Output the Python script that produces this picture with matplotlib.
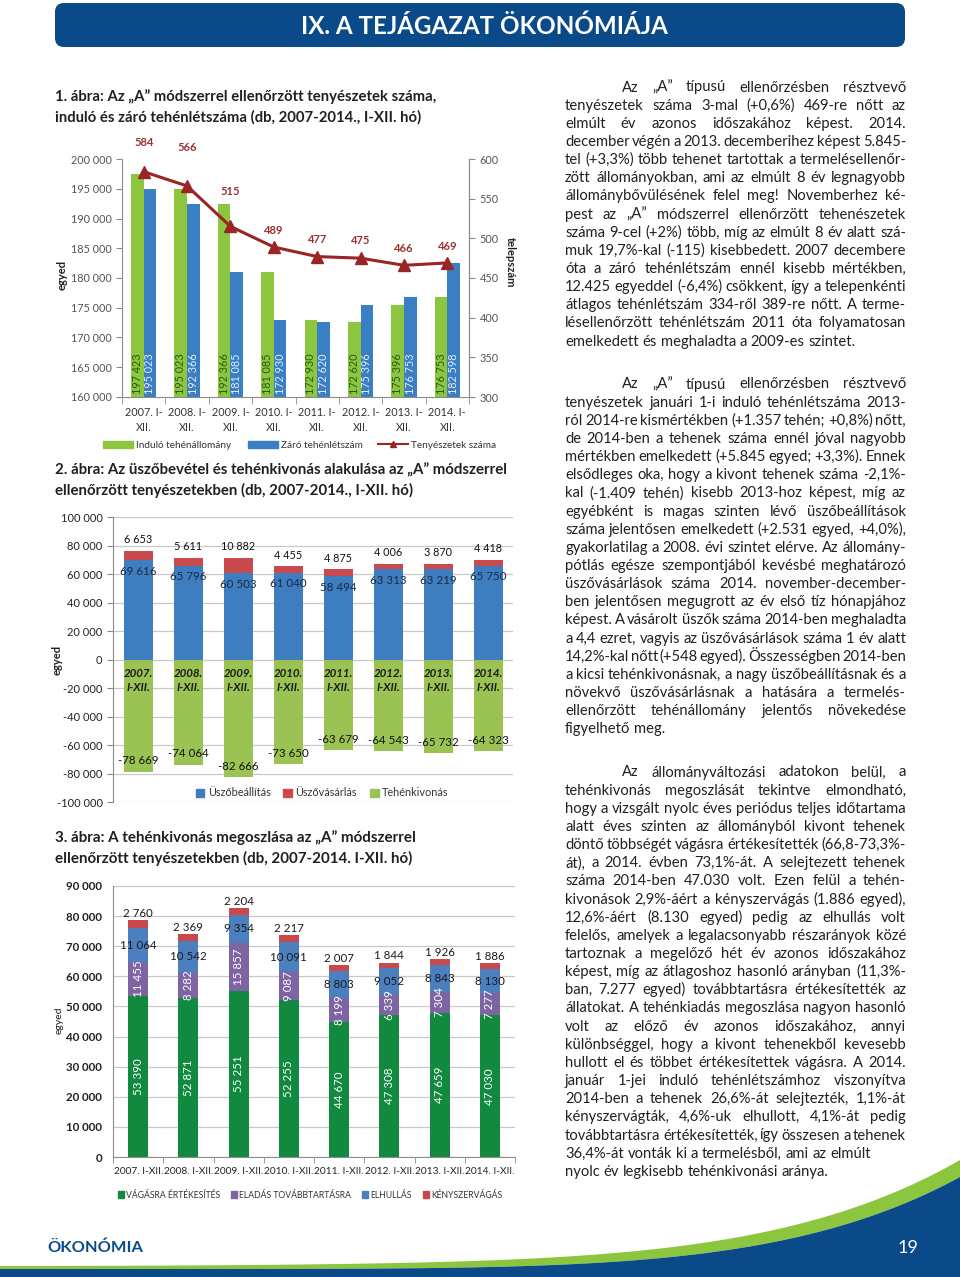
import numpy as np
import matplotlib
matplotlib.use('Agg')
import matplotlib.pyplot as plt
from matplotlib.patches import FancyBboxPatch, Patch
from matplotlib.lines import Line2D
from matplotlib.ticker import FuncFormatter, MultipleLocator, FixedLocator

# ---------------- data ----------------
years1 = ['2007. I-\nXII.', '2008. I-\nXII.', '2009. I-\nXII.', '2010. I-\nXII.',
          '2011. I-\nXII.', '2012. I-\nXII.', '2013. I-\nXII.', '2014. I-\nXII.']
indulo = [197423, 195023, 192366, 181085, 172930, 172620, 175396, 176753]
zaro = [195023, 192366, 181085, 172930, 172620, 175396, 176753, 182598]
tenyeszet = [584, 566, 515, 489, 477, 475, 466, 469]
tenyeszet_lab_off = [21, 28, 25, 12, 12, 13, 12, 12]   # label offsets (points)

years2 = ['2007.\nI-XII.', '2008.\nI-XII.', '2009.\nI-XII.', '2010.\nI-XII.',
          '2011.\nI-XII.', '2012.\nI-XII.', '2013.\nI-XII.', '2014.\nI-XII.']
uszobeallitas = [69616, 65796, 60503, 61040, 58494, 63313, 63219, 65750]
uszovasarlas = [6653, 5611, 10882, 4455, 4875, 4006, 3870, 4418]
tehenkivonas = [-78669, -74064, -82666, -73650, -63679, -64543, -65732, -64323]

years3 = ['2007. I-XII.', '2008. I-XII.', '2009. I-XII.', '2010. I-XII.',
          '2011. I-XII.', '2012. I-XII.', '2013. I-XII.', '2014. I-XII.']
vagasra = [53390, 52871, 55251, 52255, 44670, 47308, 47659, 47030]
tovabbtartasra = [11455, 8282, 15857, 9087, 8199, 6339, 7304, 7277]
elhullas = [11064, 10542, 9354, 10091, 8803, 9052, 8843, 8130]
kenyszervagas = [2760, 2369, 2204, 2217, 2007, 1844, 1926, 1886]

# ---------------- text ----------------
header = 'IX. A TEJÁGAZAT ÖKONÓMIÁJA'
cap1 = ['1. ábra: Az „A” módszerrel ellenőrzött tenyészetek száma,',
        'induló és záró tehénlétszáma (db, 2007-2014., I-XII. hó)']
cap2 = ['2. ábra: Az üszőbevétel és tehénkivonás alakulása az „A” módszerrel',
        'ellenőrzött tenyészetekben (db, 2007-2014., I-XII. hó)']
cap3 = ['3. ábra: A tehénkivonás megoszlása az „A” módszerrel',
        'ellenőrzött tenyészetekben (db, 2007-2014. I-XII. hó)']

par1 = ['Az „A” típusú ellenőrzésben résztvevő',
        'tenyészetek száma 3-mal (+0,6%) 469-re nőtt az',
        'elmúlt év azonos időszakához képest. 2014.',
        'december végén a 2013. decemberihez képest 5.845-',
        'tel (+3,3%) több tehenet tartottak a termelésellenőr-',
        'zött állományokban, ami az elmúlt 8 év legnagyobb',
        'állománybővülésének felel meg! Novemberhez ké-',
        'pest az „A” módszerrel ellenőrzött tehenészetek',
        'száma 9-cel (+2%) több, míg az elmúlt 8 év alatt szá-',
        'muk 19,7%-kal (-115) kisebbedett. 2007 decembere',
        'óta a záró tehénlétszám ennél kisebb mértékben,',
        '12.425 egyeddel (-6,4%) csökkent, így a telepenkénti',
        'átlagos tehénlétszám 334-ről 389-re nőtt. A terme-',
        'lésellenőrzött tehénlétszám 2011 óta folyamatosan',
        'emelkedett és meghaladta a 2009-es szintet.']
par2 = ['Az „A” típusú ellenőrzésben résztvevő',
        'tenyészetek januári 1-i induló tehénlétszáma 2013-',
        'ról 2014-re kismértékben (+1.357 tehén; +0,8%) nőtt,',
        'de 2014-ben a tehenek száma ennél jóval nagyobb',
        'mértékben emelkedett (+5.845 egyed; +3,3%). Ennek',
        'elsődleges oka, hogy a kivont tehenek száma -2,1%-',
        'kal (-1.409 tehén) kisebb 2013-hoz képest, míg az',
        'egyébként is magas szinten lévő üszőbeállítások',
        'száma jelentősen emelkedett (+2.531 egyed, +4,0%),',
        'gyakorlatilag a 2008. évi szintet elérve. Az állomány-',
        'pótlás egésze szempontjából kevésbé meghatározó',
        'üszővásárlások száma 2014. november-december-',
        'ben jelentősen megugrott az év első tíz hónapjához',
        'képest. A vásárolt üszők száma 2014-ben meghaladta',
        'a 4,4 ezret, vagyis az üszővásárlások száma 1 év alatt',
        '14,2%-kal nőtt (+548 egyed). Összességben 2014-ben',
        'a kicsi tehénkivonásnak, a nagy üszőbeállításnak és a',
        'növekvő üszővásárlásnak a hatására a termelés-',
        'ellenőrzött tehénállomány jelentős növekedése',
        'figyelhető meg.']
par3 = ['Az állományváltozási adatokon belül, a',
        'tehénkivonás megoszlását tekintve elmondható,',
        'hogy a vizsgált nyolc éves periódus teljes időtartama',
        'alatt éves szinten az állományból kivont tehenek',
        'döntő többségét vágásra értékesítették (66,8-73,3%-',
        'át), a 2014. évben 73,1%-át. A selejtezett tehenek',
        'száma 2014-ben 47.030 volt. Ezen felül a tehén-',
        'kivonások 2,9%-áért a kényszervágás (1.886 egyed),',
        '12,6%-áért (8.130 egyed) pedig az elhullás volt',
        'felelős, amelyek a legalacsonyabb részarányok közé',
        'tartoznak a megelőző hét év azonos időszakához',
        'képest, míg az átlagoshoz hasonló arányban (11,3%-',
        'ban, 7.277 egyed) továbbtartásra értékesítették az',
        'állatokat. A tehénkiadás megoszlása nagyon hasonló',
        'volt az előző év azonos időszakához, annyi',
        'különbséggel, hogy a kivont tehenekből kevesebb',
        'hullott el és többet értékesítettek vágásra. A 2014.',
        'január 1-jei induló tehénlétszámhoz viszonyítva',
        '2014-ben a tehenek 26,6%-át selejtezték, 1,1%-át',
        'kényszervágták, 4,6%-uk elhullott, 4,1%-át pedig',
        'továbbtartásra értékesítették, így összesen a tehenek',
        '36,4%-át vonták ki a termelésből, ami az elmúlt',
        'nyolc év legkisebb tehénkivonási aránya.']

# ---------------- style ----------------
BODY = ['Lato', 'DejaVu Sans']
NARROW = ['Liberation Sans Narrow', 'Lato', 'DejaVu Sans']
TXT = '#231f20'
NAVY = '#0b4a89'
LGREEN = '#8cc63f'
G1, B1, R1 = '#8cc63f', '#3a7ec3', '#9b2424'
B2, R2, G2 = '#3d7dc0', '#c94a4c', '#9bc354'
G3, P3, B3, R3 = '#11893f', '#7f64a3', '#4b7fbe', '#c9484b'
GRID = '#c8c8c8'
SPINE = '#8c8c8c'
plt.rcParams['font.family'] = BODY

W, H = 960, 1277
fig = plt.figure(figsize=(W / 100, H / 100), dpi=100)
renderer = fig.canvas.get_renderer()
bg = fig.add_axes([0, 0, 1, 1], zorder=-10)
bg.set_xlim(0, W)
bg.set_ylim(H, 0)
bg.axis('off')


def twidth(s, **kw):
    t = bg.text(0, 0, s, **kw)
    w = t.get_window_extent(renderer).width
    t.remove()
    return w


def fit(s, target, **kw):
    return 10 * target / twidth(s, fontsize=10, **kw)


def ax_px(l, t, r, b):
    return fig.add_axes([l / W, 1 - b / H, (r - l) / W, (b - t) / H])


def fmt(v):
    return f'{int(v):,}'.replace(',', ' ')


spacefmt = FuncFormatter(lambda v, p: fmt(v))

# ---------------- header ----------------
bg.add_patch(FancyBboxPatch((55, 3), 850, 44, boxstyle='round,pad=0,rounding_size=9',
                            fc=NAVY, ec='none'))
hs = fit(header, 366, family=NARROW, fontweight='bold')
bg.text(484, 26, header, fontsize=hs, family=NARROW, fontweight='bold', color='white',
        ha='center', va='center')

# ---------------- footer ----------------
xs = np.linspace(0, W, 500)
yb = 1269 - 92 * (xs / W) ** 5.7
yg = yb - (3 + 14 * (xs / W) ** 2)
bg.fill_between(xs, yg, yb, color=LGREEN, lw=0)
bg.fill_between(xs, yb, H, color=NAVY, lw=0)
fs_ok = fit('ÖKONÓMIA', 95, family=NARROW, fontweight='bold')
bg.text(47, 1248, 'ÖKONÓMIA', fontsize=fs_ok, family=NARROW, fontweight='bold',
        color=NAVY, ha='left', va='center')
bg.text(918, 1248, '19', fontsize=fs_ok * 1.1, family=NARROW, color='white',
        ha='right', va='center')

# ---------------- captions ----------------
def caption(lines, y0, target, dy=20):
    fs = fit(lines[0], target, family=BODY, fontweight='bold')
    for i, s in enumerate(lines):
        bg.text(55, y0 + i * dy, s, fontsize=fs, family=BODY, fontweight='bold',
                color=TXT, ha='left', va='center')


caption(cap1, 97, 382)
caption(cap2, 470, 453)
caption(cap3, 838, 360)

# ---------------- body text (justified) ----------------
X0, X1, INDENT = 565, 906, 57
BFS = 0.97 * fit('36,4%-át vonták ki a termelésből, ami az elmúlt', 315, family=BODY)


def paragraph(lines, y0, dy=18.15, ragged=()):
    for i, line in enumerate(lines):
        y = y0 + i * dy
        words = line.split(' ')
        xstart = X0 + (INDENT if i == 0 else 0)
        avail = X1 - xstart
        fs = BFS
        sw = twidth('a a', fontsize=fs, family=BODY) - twidth('aa', fontsize=fs, family=BODY)
        ws = [twidth(w, fontsize=fs, family=BODY) for w in words]
        need = sum(ws) + (len(words) - 1) * 0.45 * sw
        if need > avail:
            fs = fs * avail / need
            sw = sw * avail / need
            ws = [twidth(w, fontsize=fs, family=BODY) for w in words]
        if i == len(lines) - 1 or i in ragged or len(words) == 1:
            gap = sw
        else:
            gap = (avail - sum(ws)) / (len(words) - 1)
        x = xstart
        for w, wd in zip(words, ws):
            bg.text(x, y, w, fontsize=fs, family=BODY, color=TXT, ha='left', va='baseline')
            x += wd + gap


paragraph(par1, 91.5)
paragraph(par2, 388.5)
paragraph(par3, 776.5, ragged=(21,))

# ---------------- chart 1 ----------------
x = np.arange(len(years1))
ax1 = ax_px(122, 159, 469, 397)
bw = 0.29
ax1.bar(x - bw / 2, indulo, bw, color=G1, zorder=2)
ax1.bar(x + bw / 2, zaro, bw, color=B1, zorder=2)
ax1.set_ylim(160000, 200000)
ax1.set_xlim(-0.5, len(x) - 0.5)
ax1.yaxis.set_major_locator(MultipleLocator(5000))
ax1.yaxis.set_major_formatter(spacefmt)
ax1.set_xticks(x)
ax1.set_xticklabels(years1, fontsize=7.8, color='#333333', linespacing=1.5)
ax1.xaxis.set_minor_locator(FixedLocator(np.arange(-0.5, len(x), 1)))
ax1.tick_params(axis='x', which='major', length=0, pad=7)
ax1.tick_params(axis='x', which='minor', length=5, color=SPINE)
ax1.tick_params(axis='y', labelsize=7.8, labelcolor='#555555', color=SPINE, length=4)
ax1.spines['top'].set_visible(False)
for s in ['left', 'bottom', 'right']:
    ax1.spines[s].set_color(SPINE)
for i in range(len(x)):
    ax1.annotate(fmt(indulo[i]), (x[i] - bw / 2, 160000), xytext=(0, 2),
                 textcoords='offset points', rotation=90, ha='center', va='bottom',
                 fontsize=7.8, color='#245a12', zorder=3)
    ax1.annotate(fmt(zaro[i]), (x[i] + bw / 2, 160000), xytext=(0, 2),
                 textcoords='offset points', rotation=90, ha='center', va='bottom',
                 fontsize=7.8, color='#e4eefa', zorder=3)
ax1b = ax1.twinx()
ax1b.set_ylim(300, 600)
ax1b.yaxis.set_major_locator(MultipleLocator(50))
ax1b.tick_params(axis='y', labelsize=7.8, labelcolor='#555555', color=SPINE, length=4)
for s in ['top', 'left', 'bottom']:
    ax1b.spines[s].set_visible(False)
ax1b.spines['right'].set_color(SPINE)
ax1b.plot(x, tenyeszet, color=R1, lw=2.2, marker='^', ms=8, zorder=4)
for i in range(len(x)):
    ax1b.annotate(str(tenyeszet[i]), (x[i], tenyeszet[i]), xytext=(0, tenyeszet_lab_off[i]),
                  textcoords='offset points', ha='center', va='center', fontsize=8,
                  fontweight='bold', color='#9b3030')
bg.text(62, 275, 'egyed', rotation=90, fontsize=8, fontweight='bold', color=TXT,
        ha='center', va='center')
bg.text(510, 262, 'telepszám', rotation=270, fontsize=8, fontweight='bold', color=TXT,
        ha='center', va='center')
h1 = [Patch(color=G1), Patch(color=B1),
      Line2D([], [], color=R1, lw=1.5, marker='^', ms=5)]
fig.legend(h1, ['Induló tehénállomány', 'Záró tehénlétszám', 'Tenyészetek száma'],
           loc='center', bbox_to_anchor=(300 / W, 1 - 445 / H), ncol=3, frameon=False,
           fontsize=7.2, handlelength=3.0, handleheight=0.7, columnspacing=1.6,
           handletextpad=0.3, labelcolor='#333333')

# ---------------- chart 2 ----------------
ax2 = ax_px(113, 517, 513, 802)
bw2 = 0.58
ax2.bar(x, uszobeallitas, bw2, color=B2, zorder=2)
ax2.bar(x, uszovasarlas, bw2, bottom=uszobeallitas, color=R2, zorder=2)
ax2.bar(x, tehenkivonas, bw2, color=G2, zorder=2)
ax2.set_ylim(-100000, 100000)
ax2.set_xlim(-0.5, len(x) - 0.5)
ax2.yaxis.set_major_locator(MultipleLocator(20000))
ax2.yaxis.set_major_formatter(spacefmt)
ax2.grid(axis='y', color=GRID, lw=0.9, zorder=0)
ax2.set_xticks([])
ax2.tick_params(axis='y', labelsize=8, labelcolor='#222222', length=4, color=SPINE)
for s in ['top', 'right', 'bottom']:
    ax2.spines[s].set_visible(False)
ax2.spines['left'].set_color(SPINE)
for i in range(len(x)):
    ax2.annotate(fmt(uszobeallitas[i]), (x[i], uszobeallitas[i]), xytext=(0, -4),
                 textcoords='offset points', ha='center', va='top', fontsize=8.3,
                 color='#1b2a44', zorder=3)
    ax2.annotate(fmt(uszovasarlas[i]), (x[i], uszobeallitas[i] + uszovasarlas[i]),
                 xytext=(0, 4), textcoords='offset points', ha='center', va='bottom',
                 fontsize=7.8, color='#111111', zorder=3)
    ax2.annotate(fmt(tehenkivonas[i]), (x[i], tehenkivonas[i]), xytext=(0, 4),
                 textcoords='offset points', ha='center', va='bottom', fontsize=8.3,
                 color='#111111', zorder=3)
    ax2.annotate(years2[i], (x[i], 0), xytext=(0, -6), textcoords='offset points',
                 ha='center', va='top', fontsize=8.3, fontweight='bold', style='italic',
                 color='#1a1a1a', linespacing=1.3, zorder=3)
bg.text(57, 660, 'egyed', rotation=90, fontsize=8, fontweight='bold', color=TXT,
        ha='center', va='center')
h2 = [Patch(color=B2), Patch(color=R2), Patch(color=G2)]
fig.legend(h2, ['Üszőbeállítás', 'Üszővásárlás', 'Tehénkivonás'],
           loc='center', bbox_to_anchor=(322 / W, 1 - 793 / H), ncol=3, frameon=False,
           fontsize=7.8, handlelength=0.8, handleheight=0.8, columnspacing=1.2,
           handletextpad=0.3, labelcolor='#333333')

# ---------------- chart 3 ----------------
ax3 = ax_px(113, 886, 515, 1157)
bw3 = 0.4
b1 = np.array(vagasra)
b2 = b1 + np.array(tovabbtartasra)
b3 = b2 + np.array(elhullas)
ax3.bar(x, vagasra, bw3, color=G3, zorder=2)
ax3.bar(x, tovabbtartasra, bw3, bottom=b1, color=P3, zorder=2)
ax3.bar(x, elhullas, bw3, bottom=b2, color=B3, zorder=2)
ax3.bar(x, kenyszervagas, bw3, bottom=b3, color=R3, zorder=2)
ax3.set_ylim(0, 90000)
ax3.set_xlim(-0.5, len(x) - 0.5)
ax3.yaxis.set_major_locator(MultipleLocator(10000))
ax3.yaxis.set_major_formatter(spacefmt)
ax3.grid(axis='y', color=GRID, lw=0.9, zorder=0)
ax3.set_xticks(x)
fs3 = fit(years3[0], 49, family=BODY)
ax3.set_xticklabels(years3, fontsize=fs3, color='#222222')
ax3.xaxis.set_minor_locator(FixedLocator(np.arange(-0.5, len(x), 1)))
ax3.tick_params(axis='x', which='major', length=0, pad=7)
ax3.tick_params(axis='x', which='minor', length=4, color=SPINE)
ax3.tick_params(axis='y', labelsize=8.3, labelcolor='#222222', length=0, pad=8)
for lab in ax3.get_yticklabels():
    lab.set_fontweight('bold')
for s in ['top', 'right']:
    ax3.spines[s].set_visible(False)
ax3.spines['left'].set_color(SPINE)
ax3.spines['bottom'].set_color(SPINE)
for i in range(len(x)):
    ax3.text(x[i], vagasra[i] / 2, fmt(vagasra[i]), rotation=90, ha='center', va='center',
             fontsize=8.3, color='white', zorder=3)
    ax3.text(x[i], b1[i] + tovabbtartasra[i] / 2, fmt(tovabbtartasra[i]), rotation=90,
             ha='center', va='center', fontsize=8.3, color='white', zorder=3)
    ax3.text(x[i], b2[i] + elhullas[i] / 2, fmt(elhullas[i]), ha='center', va='center',
             fontsize=8.3, color='#1a1a1a', zorder=3)
    ax3.annotate(fmt(kenyszervagas[i]), (x[i], b3[i] + kenyszervagas[i]), xytext=(0, 1),
                 textcoords='offset points', ha='center', va='bottom', fontsize=8.3,
                 color='#1a1a1a', zorder=3)
bg.text(59, 1020, 'egyed', rotation=90, fontsize=7.5, color=TXT, ha='center', va='center')
h3 = [Patch(color=G3), Patch(color=P3), Patch(color=B3), Patch(color=R3)]
fig.legend(h3, ['VÁGÁSRA ÉRTÉKESÍTÉS', 'ELADÁS TOVÁBBTARTÁSRA', 'ELHULLÁS', 'KÉNYSZERVÁGÁS'],
           loc='center', bbox_to_anchor=(310 / W, 1 - 1195 / H), ncol=4, frameon=False,
           fontsize=6.2, handlelength=0.7, handleheight=0.7, columnspacing=1.3,
           handletextpad=0.25, labelcolor='#333333')

fig.savefig('out.png', dpi=100, facecolor='white')
